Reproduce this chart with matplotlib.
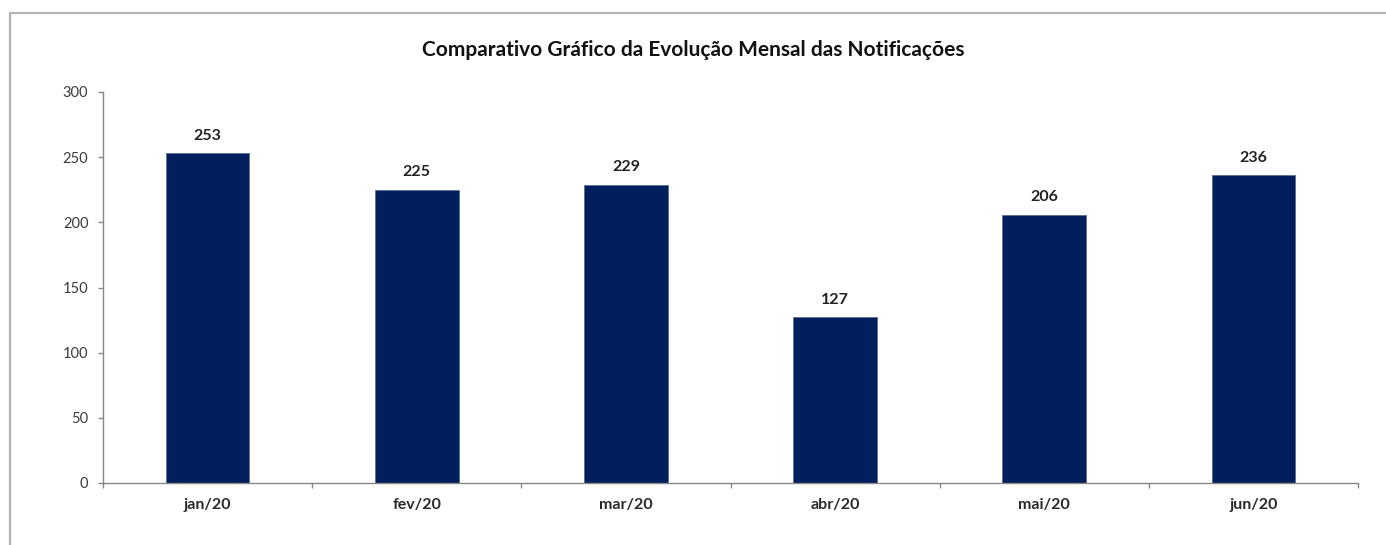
import matplotlib
matplotlib.use("Agg")
import matplotlib.pyplot as plt
from matplotlib.patches import Rectangle
import numpy as np

# monthly notification counts
months = ["jan/20", "fev/20", "mar/20", "abr/20", "mai/20", "jun/20"]
counts = [253, 225, 229, 127, 206, 236]
yticks = [0, 50, 100, 150, 200, 250, 300]

plt.rcParams["font.family"] = ["Lato", "DejaVu Sans"]

fig = plt.figure(figsize=(13.86, 5.45), dpi=100)
ax = fig.add_axes([103 / 1386, 1 - 483 / 545, 1255 / 1386, 391 / 545])

# chart frame (runs off the right and bottom edge)
fig.add_artist(Rectangle((10 / 1386, -0.2), 1.2, 1 - 12.5 / 545 + 0.2,
                         transform=fig.transFigure, fill=False,
                         edgecolor="#b4b4b4", linewidth=1.6))

x = np.arange(len(months))
ax.bar(x, counts, width=0.40, color="#001f5c", edgecolor="#5a6d95", linewidth=0.6)
for xi, v in zip(x, counts):
    ax.text(xi, v + 8, str(v), ha="center", va="bottom", fontsize=11.5,
            fontweight="bold", color="#222222")

ax.set_xlim(-0.5, len(months) - 0.5)
ax.set_ylim(0, 300)
ax.set_yticks(yticks)
ax.set_yticklabels([str(t) for t in yticks], fontsize=10.5, color="#3a3a3a")
ax.set_xticks(x)
ax.set_xticklabels(months, fontsize=11.5, fontweight="bold", color="#2a2a2a")
ax.tick_params(axis="x", length=0, pad=11)
ax.tick_params(axis="y", length=3.5, color="#888888", width=1, pad=7)
# category separators on the x axis
ax.set_xticks(np.arange(len(months) + 1) - 0.5, minor=True)
ax.tick_params(axis="x", which="minor", length=3.5, color="#888888", width=1)

for side in ("top", "right"):
    ax.spines[side].set_visible(False)
for side in ("left", "bottom"):
    ax.spines[side].set_color("#888888")
    ax.spines[side].set_linewidth(1)

fig.text(0.5, 1 - 50 / 545, "Comparativo Gráfico da Evolução Mensal das Notificações",
         ha="center", va="center", fontsize=15, fontweight="bold", color="#111111")

fig.savefig("out.png", dpi=100, facecolor="white")
